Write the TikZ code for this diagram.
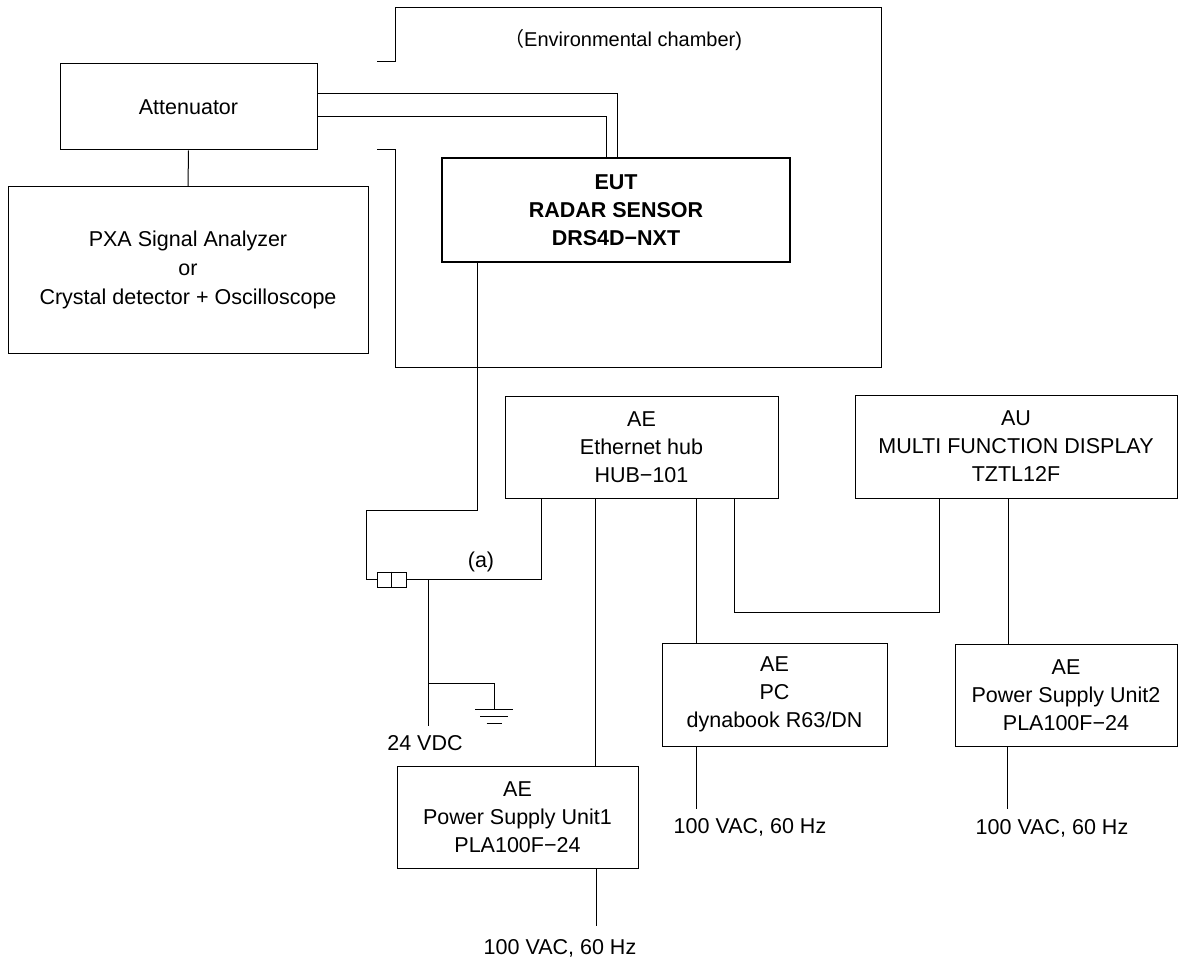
\documentclass[tikz,border=0pt]{standalone}
\usepackage{fontspec}
\setmainfont{Liberation Sans}
\newfontfamily\cjk{Noto Sans CJK JP}
\begin{document}
\begin{tikzpicture}[x=1pt,y=-1pt,
  every node/.style={font=\fontsize{21.5}{28}\selectfont},
  box/.style={draw,line width=1pt,inner sep=0pt,align=center},
  eutbox/.style={draw,line width=2pt,inner sep=0pt,align=center,font=\fontsize{21.5}{28}\selectfont\bfseries},
  wire/.style={line width=1pt},
  lbl/.style={inner sep=0pt}]
\useasboundingbox (0,0) rectangle (1179,963);
% chamber
\draw[wire] (377,62) -- (395,62) -- (395,8) -- (881,8) -- (881,367) -- (395,367) -- (395,150) -- (377,150);
\node[lbl,anchor=west,font=\fontsize{20}{24}\selectfont] (chamber) at (504,40) {{\cjk （}Environmental chamber)};
% boxes
\node[box,minimum width=257pt,minimum height=86pt] (att) at (188.5,107) {Attenuator};
\node[box,minimum width=360pt,minimum height=166pt,font=\fontsize{21.5}{29}\selectfont] (pxa) at (188,270) {PXA Signal Analyzer\\or\\Crystal detector + Oscilloscope};
\node[eutbox,minimum width=348pt,minimum height=104pt] (eut) at (616,210) {EUT\\RADAR SENSOR\\DRS4D−NXT};
\node[box,minimum width=273pt,minimum height=102pt] (hub) at (641.5,447) {AE\\Ethernet hub\\HUB−101};
\node[box,minimum width=322pt,minimum height=103pt] (mfd) at (1016,446.5) {AU\\MULTI FUNCTION DISPLAY\\TZTL12F};
\node[box,minimum width=225pt,minimum height=103pt] (pc) at (774.5,694.5) {AE\\PC\\dynabook R63/DN};
\node[box,minimum width=222pt,minimum height=102pt] (psutwo) at (1066,695) {AE\\Power Supply Unit2\\PLA100F−24};
\node[box,minimum width=241pt,minimum height=102pt] (psuone) at (517.5,817) {AE\\Power Supply Unit1\\PLA100F−24};
% connector
\node[draw,line width=1pt,minimum width=29pt,minimum height=15pt,inner sep=0pt] (conn) at (391.5,579.5) {};
\draw[wire] (conn.north) -- (conn.south);
% labels
\node[lbl] (acpc) at (750,827) {100 VAC, 60 Hz};
\node[lbl] (actwo) at (1052,828) {100 VAC, 60 Hz};
\node[lbl] (acone) at (560,948) {100 VAC, 60 Hz};
\node[lbl] (vdc) at (425,743) {24 VDC};
\node[lbl] (a) at (481,562) {(a)};
% coordinates
\coordinate (eutbend) at (366,510);
\coordinate (jn) at (428,579.5);
\coordinate (vdcend) at (428,726);
\coordinate (gjn) at (428,683);
\coordinate (gnd) at (494,709);
% wires
\draw[wire] (att.south) -- (pxa.north);
\draw[wire] ([yshift=-30pt]att.north east) -| ([xshift=176pt]eut.north west);
\draw[wire] ([yshift=-53pt]att.north east) -| ([xshift=165pt]eut.north west);
\draw[wire] ([xshift=36pt]eut.south west) |- (eutbend) |- (conn.west);
\draw[wire] ([xshift=37pt]hub.south west) |- (conn.east);
\draw[wire] (jn) -- (vdcend);
\draw[wire] (gjn) -| (gnd);
\draw[wire] ([xshift=-19pt]gnd) -- ([xshift=19pt]gnd);
\draw[wire] ([xshift=-14pt,yshift=-7pt]gnd) -- ([xshift=14pt,yshift=-7pt]gnd);
\draw[wire] ([xshift=-7.5pt,yshift=-14pt]gnd) -- ([xshift=7.5pt,yshift=-14pt]gnd);
\draw[wire] ([xshift=91pt]hub.south west) -- ([xshift=91pt]hub.south west |- psuone.north);
\draw[wire] ([xshift=192pt]hub.south west) -- ([xshift=192pt]hub.south west |- pc.north);
\draw[wire] ([xshift=230pt]hub.south west) -- ++(0,114) -| ([xshift=85pt]mfd.south west);
\draw[wire] ([xshift=154pt]mfd.south west) -- ([xshift=154pt]mfd.south west |- psutwo.north);
\draw[wire] ([xshift=53pt]psutwo.south west) -- ++(0,62);
\draw[wire] ([xshift=35pt]pc.south west) -- ++(0,62);
\draw[wire] ([xshift=200pt]psuone.south west) -- ++(0,57);
\end{tikzpicture}
\end{document}
